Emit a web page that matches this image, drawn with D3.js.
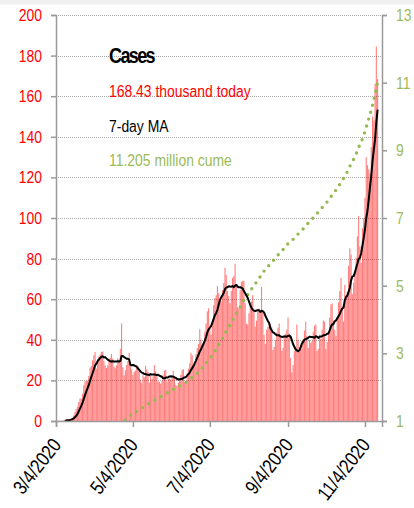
<!DOCTYPE html>
<html>
<head>
<meta charset="utf-8">
<script src="https://cdn.jsdelivr.net/npm/d3@7/dist/d3.min.js"></script>
<style>
  body { margin: 0; background: #fff; }
  svg { display: block; }
</style>
</head>
<body>
<svg id="chart" width="414" height="508"></svg>
<script>
// daily new cases, thousands, one value per day starting 2020-03-05
const firstDay = "2020-03-05";
const casesMar = [0.07, 0.1, 0.12, 0.12, 0.18, 0.29, 0.39, 0.49, 0.66, 0.72, 0.95, 1.2, 1.8, 2.8,
  4.5, 5.9, 7.1, 9.4, 11.1, 11.0, 13.4, 17.6, 19.5, 19.8, 19.9, 22.2, 26.3];
const casesApr = [27.1, 29.9, 32.3, 34.0, 25.9, 30.6, 31.7, 32.8, 34.0, 34.3, 29.6, 27.4, 26.1, 27.4, 30.2,
  31.2, 33.0, 30.8, 26.8, 26.0, 27.5, 31.0, 29.5, 35.5, 48.0, 26.5, 22.5, 25.0, 27.5, 29.5];
const casesMay = [33.5, 29.0, 25.5, 22.8, 24.2, 24.8, 27.5, 27.0, 24.5, 20.3, 18.6, 22.5, 21.6, 27.2, 25.4,
  24.0, 18.9, 22.3, 20.5, 22.0, 27.5, 24.5, 23.1, 19.5, 19.3, 18.4, 19.8, 22.6, 24.8, 25.2, 19.5];
const casesJun = [20.8, 21.0, 20.5, 21.9, 24.7, 22.0, 17.8, 17.2, 19.0, 21.0, 22.8, 25.0, 25.6, 19.2, 19.5,
  23.5, 25.8, 28.4, 33.5, 32.4, 26.1, 29.0, 33.0, 36.0, 38.0, 45.3, 40.0, 36.0, 38.0, 44.0];
const casesJul = [48.0, 54.0, 55.5, 46.0, 42.5, 49.0, 57.0, 60.5, 62.0, 66.5, 63.0, 58.5, 59.0, 64.5, 68.0,
  75.5, 72.0, 64.0, 61.5, 58.0, 64.0, 70.5, 71.5, 77.5, 66.0, 56.0, 55.5, 64.5, 68.5, 69.0, 69.0];
const casesAug = [58.0, 48.0, 47.5, 53.0, 56.0, 59.0, 62.0, 55.0, 46.5, 49.5, 54.0, 55.5, 53.5, 66.0, 53.5,
  42.5, 38.0, 45.0, 46.5, 46.5, 48.0, 46.5, 35.0, 36.5, 40.0, 43.5, 46.0, 48.0, 42.0, 34.5, 36.0];
const casesSep = [42.0, 43.0, 45.0, 51.0, 43.0, 31.0, 24.0, 27.5, 34.5, 36.0, 47.5, 40.0, 34.0, 35.5, 39.5,
  40.0, 44.5, 49.0, 42.0, 36.0, 40.0, 38.5, 39.5, 44.0, 47.0, 47.5, 34.5, 35.5, 42.5, 40.5];
const casesOct = [45.0, 49.5, 49.0, 35.5, 39.0, 43.5, 51.0, 57.5, 58.0, 49.5, 45.0, 42.0, 51.0, 58.5, 64.0,
  70.5, 56.5, 49.0, 67.0, 62.0, 63.5, 76.5, 85.0, 82.0, 62.5, 68.0, 74.0, 80.5, 91.0, 101.0, 86.0];
const casesNov = [78, 95, 100, 110, 130, 126, 124, 122, 135, 150, 148, 166, 184.5, 168.43];

const leftTicks = [0, 20, 40, 60, 80, 100, 120, 140, 160, 180, 200];
const rightTicks = [1, 3, 5, 7, 9, 11, 13];
const dateTicks = ["2020-03-04", "2020-05-04", "2020-07-04", "2020-09-04", "2020-11-04"];
const legendLines = [
  { text: "Cases", color: "#000", bold: true },
  { text: "168.43 thousand today", color: "#ff0000" },
  { text: "7-day MA", color: "#000" },
  { text: "11.205 million cume", color: "#9bbb59" }
];

const RED = "#ff0000";
const GREEN = "#9bbb59";
const AXIS = "#9a9a9a";
const FONT = '"Liberation Sans", Arial, sans-serif';
const NARROW = 0.82; // Arial Narrow is Arial squeezed to 82%

const svg = d3.select("#chart");
const W = 414, H = 508;
const plot = { left: 56, right: 382, top: 15, bottom: 421 };

svg.append("rect").attr("width", W).attr("height", H).attr("fill", "#fff");
svg.append("rect").attr("width", W).attr("height", 4.5).attr("fill", "#f0f0f0");

// squeeze text horizontally, keeping its anchor point where it was
function narrow(sel) {
  sel.each(function() {
    const t = d3.select(this);
    const tx = +t.attr("x") || 0;
    const prev = t.attr("transform") || "";
    t.attr("x", tx / NARROW).attr("transform", `${prev} scale(${NARROW},1)`);
  });
}

const parse = d3.timeParse("%Y-%m-%d");
const start = parse(firstDay);
const daily = [].concat(casesMar, casesApr, casesMay, casesJun, casesJul, casesAug, casesSep, casesOct, casesNov);
const data = daily.map((v, i) => ({ date: d3.timeDay.offset(start, i), value: v }));

// 7-day trailing mean and running total (millions)
const cume = d3.cumsum(daily);
data.forEach((d, i) => {
  d.ma = i >= 6 ? d3.mean(daily.slice(i - 6, i + 1)) : null;
  d.cume = cume[i] / 1000;
});

const x = d3.scaleTime()
  .domain([parse("2020-03-04"), d3.timeHour.offset(parse("2020-11-17"), 12)])
  .range([plot.left, plot.right]);
const y = d3.scaleLinear().domain([0, 200]).range([plot.bottom, plot.top]);
const y2 = d3.scaleLinear().domain([1, 13]).range([plot.bottom, plot.top]);

// gridlines
svg.append("g")
  .selectAll("line")
  .data(leftTicks.filter(t => t > 0))
  .join("line")
  .attr("x1", plot.left).attr("x2", plot.right)
  .attr("y1", d => Math.round(y(d)) + 0.5).attr("y2", d => Math.round(y(d)) + 0.5)
  .attr("stroke", "#a8a8a8")
  .attr("stroke-dasharray", "1,1");

// bars
const bw = 1.1;
svg.append("g")
  .selectAll("rect")
  .data(data)
  .join("rect")
  .attr("x", d => x(d.date) - bw / 2)
  .attr("y", d => y(d.value))
  .attr("width", bw)
  .attr("height", d => y(0) - y(d.value))
  .attr("fill", RED)
  .attr("fill-opacity", 0.5);

// cumulative dotted line (right axis)
svg.append("clipPath").attr("id", "clip")
  .append("rect")
  .attr("x", plot.left).attr("y", plot.top)
  .attr("width", plot.right - plot.left).attr("height", plot.bottom - plot.top);

svg.append("path")
  .datum(data)
  .attr("clip-path", "url(#clip)")
  .attr("fill", "none")
  .attr("stroke", "#95b94f")
  .attr("stroke-width", 3.4)
  .attr("stroke-linecap", "round")
  .attr("stroke-dasharray", "0,7.2")
  .attr("d", d3.line().x(d => x(d.date)).y(d => y2(d.cume)));

// 7-day moving average
svg.append("path")
  .datum(data.filter(d => d.ma !== null))
  .attr("fill", "none")
  .attr("stroke", "#000")
  .attr("stroke-width", 2)
  .attr("stroke-linejoin", "round")
  .attr("d", d3.line().x(d => x(d.date)).y(d => y(d.ma)));

// axes
const leftAxis = svg.append("g")
  .attr("transform", `translate(${plot.left},0)`)
  .call(d3.axisLeft(y).tickValues(leftTicks).tickSize(5).tickPadding(9));
const rightAxis = svg.append("g")
  .attr("transform", `translate(${plot.right},0)`)
  .call(d3.axisRight(y2).tickValues(rightTicks).tickSize(5).tickPadding(9));
const bottomAxis = svg.append("g")
  .attr("transform", `translate(0,${plot.bottom})`)
  .call(d3.axisBottom(x).tickValues(dateTicks.map(parse)).tickSize(6)
    .tickFormat(d3.timeFormat("%-m/%-d/%Y")));

[leftAxis, rightAxis, bottomAxis].forEach(g => {
  g.select(".domain").attr("stroke", AXIS).attr("stroke-width", 1.5);
  g.selectAll(".tick line").attr("stroke", AXIS).attr("stroke-width", 1.5);
  g.selectAll("text").attr("font-family", FONT).attr("font-size", 17);
});
leftAxis.selectAll("text").attr("fill", RED).call(narrow);
rightAxis.selectAll("text").attr("fill", GREEN).call(narrow);
bottomAxis.selectAll("text")
  .attr("fill", "#000")
  .attr("font-size", 20)
  .attr("text-anchor", "end")
  .attr("dy", "0.35em")
  .attr("x", 0).attr("y", 0)
  .attr("transform", "translate(0,20) rotate(-52)")
  .call(narrow);

// legend block
svg.append("g")
  .selectAll("text")
  .data(legendLines)
  .join("text")
  .attr("x", 109)
  .attr("y", (d, i) => 63 + i * 34.5)
  .attr("fill", d => d.color)
  .attr("font-family", FONT)
  .attr("font-size", d => d.bold ? 22 : 17)
  .attr("font-weight", d => d.bold ? "bold" : "normal")
  .attr("letter-spacing", d => d.bold ? -2 : 0)
  .text(d => d.text)
  .call(narrow);
</script>
</body>
</html>
